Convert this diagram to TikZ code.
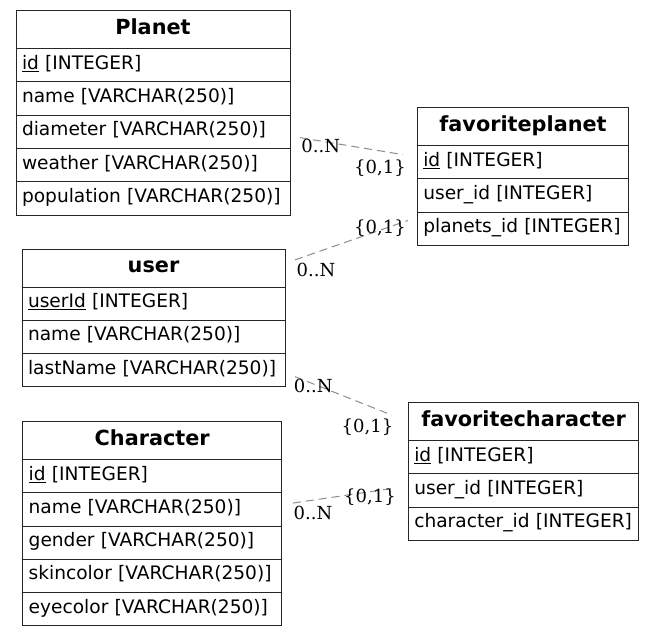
\documentclass[tikz,border=0pt]{standalone}
\usepackage{fontspec}
\usepackage{tikz}
\usetikzlibrary{positioning}
\newfontfamily\fieldfont{DejaVu Sans}
\newfontfamily\cardfont{DejaVu Serif}
\newdimen\hdim
\newdimen\rdim
\newdimen\wdim
\hdim=37.7pt
\rdim=33.3pt
\tikzstyle{table}=[
  draw=black!85,
  font={\fieldfont\bfseries\fontsize{20.8}{24}\selectfont},
  inner sep=0pt,
  minimum height=\hdim,
  minimum width=\wdim,
  text height=16pt,
  text depth=7pt,
  outer sep=0pt,
  rectangle,
  text centered,
  line width=1pt,
  anchor=north west,
]
\tikzstyle{field}=[
  draw=black!85,
  font={\fieldfont\fontsize{18.6}{22}\selectfont},
  inner xsep=6pt,
  inner ysep=0pt,
  minimum height=\rdim,
  text width=\wdim-12pt,
  text height=14pt,
  text depth=6pt,
  align=left,
  outer sep=0pt,
  line width=1pt,
]
\tikzstyle{link}=[
  draw=black!45,
  line width=1pt,
  dash pattern=on 8pt off 5pt,
]
\tikzstyle{card}=[
  font={\cardfont\fontsize{18}{20}\selectfont},
  inner sep=0pt,
]
\tikzset{
  x=1pt,
  y=-1pt,
  node distance=0pt,
}

\begin{document}
\begin{tikzpicture}
  \useasboundingbox (0,0) rectangle (655,636);
  % Planet
  \wdim=274pt
  \node (planet) [table] at (16,11) {Planet};
  \node (planet_id) [field, below=of planet] {\underline{id} [INTEGER]};
  \node (planet_name) [field, below=of planet_id] {name [VARCHAR(250)]};
  \node (planet_diameter) [field, below=of planet_name] {diameter [VARCHAR(250)]};
  \node (planet_weather) [field, below=of planet_diameter] {weather [VARCHAR(250)]};
  \node (planet_population) [field, below=of planet_weather] {population [VARCHAR(250)]};
  % favoriteplanet
  \wdim=211.4pt
  \node (fplanet) [table] at (417.3,108) {favoriteplanet};
  \node (fplanet_id) [field, below=of fplanet] {\underline{id} [INTEGER]};
  \node (fplanet_user) [field, below=of fplanet_id] {user\_id [INTEGER]};
  \node (fplanet_planets) [field, below=of fplanet_user] {planets\_id [INTEGER]};
  % user
  \wdim=263pt
  \node (user) [table] at (22,249.3) {user};
  \node (user_id) [field, below=of user] {\underline{userId} [INTEGER]};
  \node (user_name) [field, below=of user_id] {name [VARCHAR(250)]};
  \node (user_lastname) [field, below=of user_name] {lastName [VARCHAR(250)]};
  % Character
  \wdim=259pt
  \node (character) [table] at (22.7,421.7) {Character};
  \node (character_id) [field, below=of character] {\underline{id} [INTEGER]};
  \node (character_name) [field, below=of character_id] {name [VARCHAR(250)]};
  \node (character_gender) [field, below=of character_name] {gender [VARCHAR(250)]};
  \node (character_skin) [field, below=of character_gender] {skincolor [VARCHAR(250)]};
  \node (character_eye) [field, below=of character_skin] {eyecolor [VARCHAR(250)]};
  % favoritecharacter
  \wdim=230.4pt
  \node (fchar) [table] at (408.3,402.7) {favoritecharacter};
  \node (fchar_id) [field, below=of fchar] {\underline{id} [INTEGER]};
  \node (fchar_user) [field, below=of fchar_id] {user\_id [INTEGER]};
  \node (fchar_character) [field, below=of fchar_user] {character\_id [INTEGER]};

  % links
  \coordinate (planet_out) at ([shift={(10,5.7)}]planet_diameter.east);
  \coordinate (fplanet_in_a) at ([shift={(-14.3,-7.7)}]fplanet_id.west);
  \coordinate (user_out_a) at ([shift={(10,-8.3)}]user.east);
  \coordinate (fplanet_in_b) at ([shift={(-9.3,-8.5)}]fplanet_planets.west);
  \coordinate (user_out_b) at ([shift={(10,6.4)}]user_lastname.east);
  \coordinate (fchar_in_a) at ([shift={(-16.6,-6.5)}]fchar.west);
  \coordinate (character_out) at ([shift={(11.3,-6.3)}]character_name.east);
  \coordinate (fchar_in_b) at ([shift={(-13.3,-2.3)}]fchar_user.west);
  \draw [link] (planet_out) -- (fplanet_in_a);
  \draw [link] (user_out_a) -- (fplanet_in_b);
  \draw [link] (user_out_b) -- (fchar_in_a);
  \draw [link] (character_out) -- (fchar_in_b);

  \node (planet_many) [card] at (320.8,145.8) {0..N};
  \node (fplanet_one_a) [card] at (380,168.3) {\{0,1\}};
  \node (fplanet_one_b) [card] at (380,228.5) {\{0,1\}};
  \node (user_many_a) [card] at (316,270) {0..N};
  \node (user_many_b) [card] at (313.3,385.5) {0..N};
  \node (fchar_one_a) [card] at (367.5,427.5) {\{0,1\}};
  \node (fchar_one_b) [card] at (370,497) {\{0,1\}};
  \node (character_many) [card] at (313,513) {0..N};
\end{tikzpicture}
\end{document}
